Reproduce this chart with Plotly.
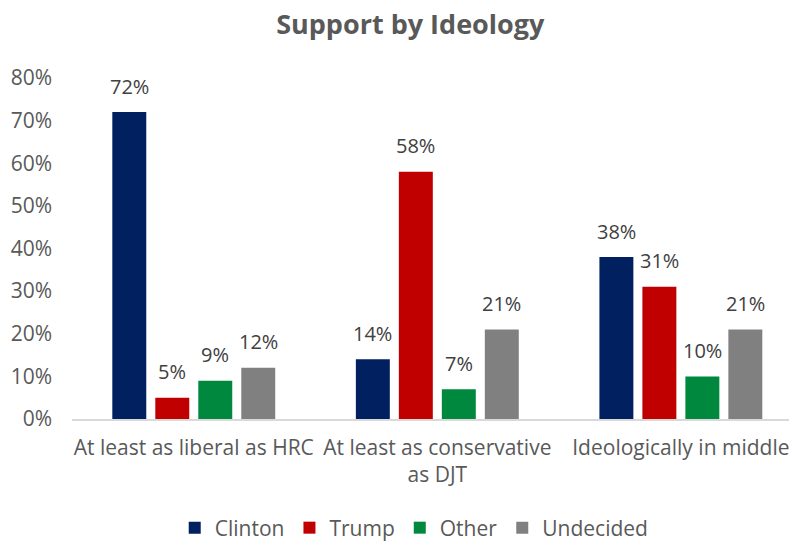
import plotly.graph_objects as go

categories = ["At least as liberal as HRC", "At least as conservative<br>as DJT", "Ideologically in middle"]
series_names = ["Clinton", "Trump", "Other", "Undecided"]
clinton = [72, 14, 38]
trump = [5, 58, 31]
other = [9, 7, 10]
undecided = [12, 21, 21]
y_ticks = [0, 10, 20, 30, 40, 50, 60, 70, 80]

colors = ["#002060", "#C00000", "#00883E", "#808080"]
FONT = "Open Sans, Calibri, sans-serif"
BARGAP = 0.294
BARGROUPGAP = 0.21

series = [clinton, trump, other, undecided]

fig = go.Figure()
for name, vals, col in zip(series_names, series, colors):
    fig.add_trace(go.Bar(
        name=name, x=categories, y=vals,
        marker=dict(color=col, line=dict(width=0)),
    ))

# value labels sit above each bar, centred on its slot within the group
n = len(series)
slot = (1 - BARGAP) / n
for i, vals in enumerate(series):
    offset = -(1 - BARGAP) / 2 + slot * (i + 0.5)
    for j, v in enumerate(vals):
        fig.add_annotation(
            x=j + offset, y=v, xref="x", yref="y",
            text=f"{v}%", showarrow=False,
            yanchor="middle", yshift=26,
            font=dict(size=20, color="#404040", family=FONT),
        )

fig.update_layout(
    width=789, height=541,
    margin=dict(l=72, r=0, t=78, b=122),
    paper_bgcolor="white", plot_bgcolor="white",
    barmode="group", bargap=BARGAP, bargroupgap=BARGROUPGAP,
    title=dict(text="<b>Support by Ideology</b>", xref="container", x=0.52, xanchor="center",
               yref="container", y=0.955, yanchor="middle",
               font=dict(size=27, color="#595959", family=FONT)),
    font=dict(family=FONT, color="#595959", size=21),
    legend=dict(orientation="h", xref="container", x=0.525, xanchor="center",
                yref="container", y=0.024, yanchor="middle",
                font=dict(size=21, color="#595959"), traceorder="normal"),
    xaxis=dict(showline=True, linecolor="#D9D9D9", linewidth=1.5, ticks="",
               range=[-0.5, 2.444], automargin=False, ticklabelstandoff=9,
               tickfont=dict(size=21, color="#595959")),
    yaxis=dict(range=[0, 80], tickvals=y_ticks, ticktext=[f"{v}%" for v in y_ticks],
               showgrid=False, zeroline=False, showline=False, automargin=False,
               ticklabelstandoff=19,
               tickfont=dict(size=21, color="#595959")),
)

fig.write_html("out.html")
